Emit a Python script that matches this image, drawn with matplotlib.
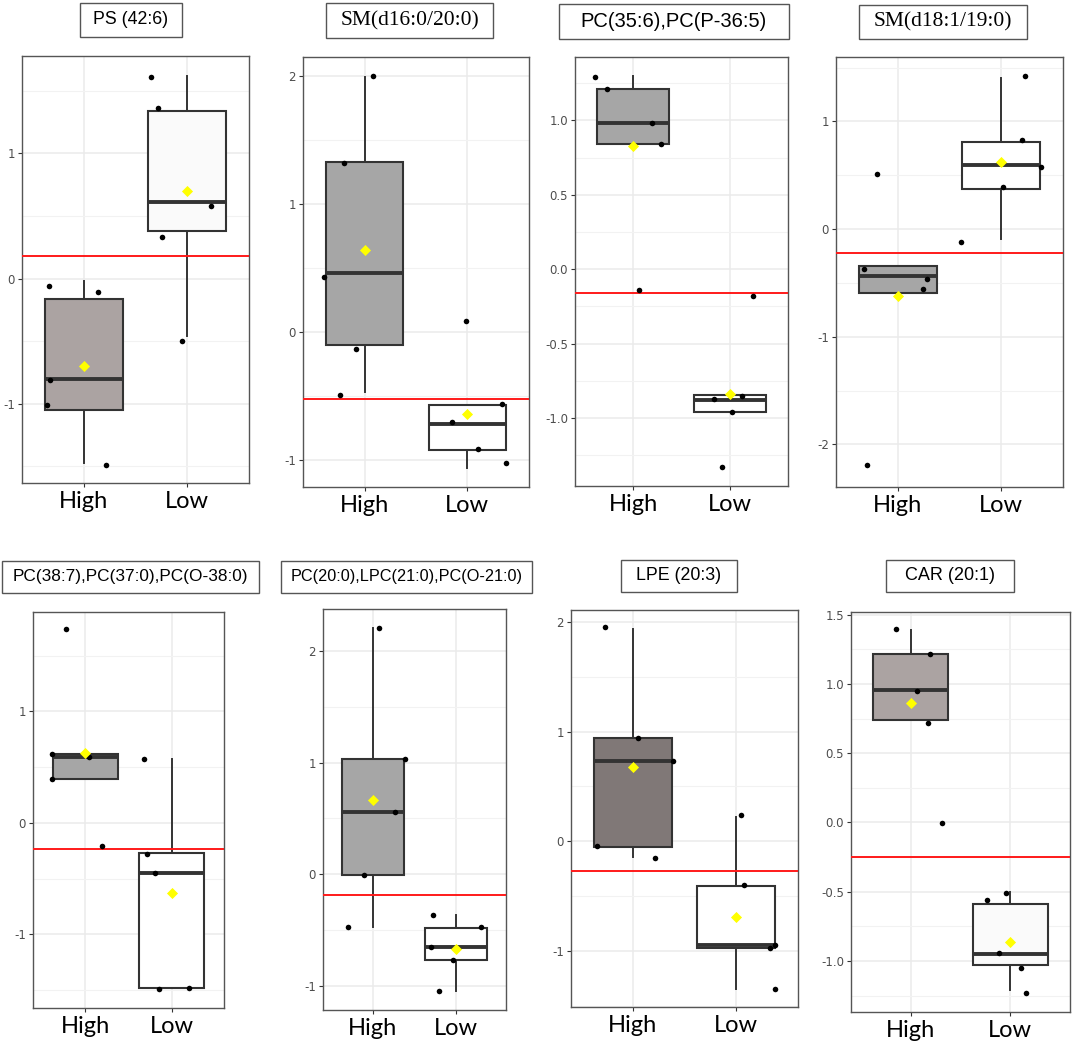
import matplotlib
matplotlib.use("Agg")
from matplotlib import pyplot as plt
from matplotlib.patches import Rectangle
from matplotlib.ticker import MultipleLocator, FormatStrFormatter

plt.rcParams['axes.unicode_minus'] = False

groups = ["High", "Low"]

titles = ["PS (42:6)", "SM(d16:0/20:0)", "PC(35:6),PC(P-36:5)", "SM(d18:1/19:0)",
          "PC(38:7),PC(37:0),PC(O-38:0)", "PC(20:0),LPC(21:0),PC(O-21:0)",
          "LPE (20:3)", "CAR (20:1)"]

# jittered sample points
high_vals = [[-0.06, -0.11, -0.81, -1.01, -1.49],
             [2.00, 1.32, 0.43, -0.13, -0.49],
             [1.29, 1.21, 0.98, 0.84, -0.14],
             [0.51, -0.37, -0.46, -0.56, -2.19],
             [1.74, 0.62, 0.59, 0.39, -0.21],
             [2.21, 1.03, 0.555, -0.006, -0.47],
             [1.95, 0.94, 0.73, -0.04, -0.15],
             [1.40, 1.22, 0.95, 0.72, -0.005]]
high_jit = [[-0.34, 0.14, -0.33, -0.36, 0.21],
            [0.08, -0.20, -0.40, -0.08, -0.24],
            [-0.39, -0.27, 0.20, 0.29, 0.06],
            [-0.20, -0.33, 0.28, 0.24, -0.30],
            [-0.22, -0.38, 0.04, -0.38, 0.20],
            [0.07, 0.39, 0.27, -0.11, -0.30],
            [-0.27, 0.05, 0.385, -0.35, 0.21],
            [-0.15, 0.19, 0.06, 0.17, 0.31]]
low_vals = [[1.61, 1.36, 0.58, 0.33, -0.50],
            [0.09, -0.70, -0.56, -0.91, -1.02],
            [-0.87, -0.85, -0.96, -1.33, -0.18],
            [1.42, 0.83, 0.58, 0.39, -0.12],
            [0.57, -0.28, -0.45, -1.49, -1.48],
            [-0.37, -0.47, -0.65, -0.77, -1.05],
            [0.24, -0.40, -0.94, -0.97, -1.34],
            [-0.56, -0.51, -0.945, -1.05, -1.23]]
low_jit = [[-0.35, -0.28, 0.23, -0.24, -0.05],
           [-0.01, -0.15, 0.34, 0.10, 0.38],
           [-0.16, 0.13, 0.02, -0.08, 0.24],
           [0.23, 0.20, 0.39, 0.02, -0.39],
           [-0.32, -0.29, -0.19, -0.15, 0.20],
           [-0.28, 0.30, -0.30, -0.04, -0.20],
           [0.05, 0.08, 0.38, 0.33, 0.375],
           [-0.23, -0.04, -0.11, 0.11, 0.16]]

# box stats: whisker low, q1, median, q3, whisker high
high_box = [[-1.47, -1.05, -0.80, -0.16, -0.02],
            [-0.47, -0.10, 0.46, 1.33, 1.99],
            [0.84, 0.84, 0.98, 1.21, 1.30],
            [-0.59, -0.59, -0.44, -0.34, -0.34],
            [0.39, 0.39, 0.59, 0.62, 0.62],
            [-0.47, -0.006, 0.555, 1.03, 2.205],
            [-0.14, -0.05, 0.73, 0.94, 1.93],
            [0.74, 0.74, 0.957, 1.22, 1.39]]
low_box = [[-0.46, 0.38, 0.61, 1.34, 1.62],
           [-1.06, -0.92, -0.72, -0.57, -0.57],
           [-0.96, -0.96, -0.88, -0.845, -0.845],
           [-0.09, 0.375, 0.595, 0.81, 1.40],
           [-1.48, -1.48, -0.45, -0.27, 0.57],
           [-1.05, -0.77, -0.655, -0.48, -0.37],
           [-1.34, -0.97, -0.94, -0.41, 0.22],
           [-1.21, -1.03, -0.947, -0.59, -0.50]]

high_mean = [-0.70, 0.64, 0.83, -0.62, 0.63, 0.665, 0.68, 0.86]
low_mean = [0.70, -0.64, -0.84, 0.62, -0.63, -0.667, -0.69, -0.86]
cutoffs = [0.18, -0.52, -0.157, -0.22, -0.233, -0.188, -0.273, -0.248]

# layout (pixels) -------------------------------------------------------
W, H = 1072, 1052
axes_px = [[22, 56, 249, 483], [303, 57, 529, 487], [575, 57, 788, 486], [836, 57, 1063, 487],
           [33, 612, 224, 1008], [323, 609, 506, 1010], [571, 610, 798, 1007], [851, 612, 1070, 1012]]
title_px = [[80, 3, 182, 37], [326, 3, 493, 38], [559, 4, 789, 39], [859, 5, 1027, 39],
            [2, 561, 259, 593], [281, 561, 532, 593], [621, 560, 737, 592], [886, 560, 1014, 592]]
title_fs = [12.8, 15.5, 14.5, 15.5, 12.4, 11.7, 12.8, 13]
title_font = ['Liberation Sans', 'Liberation Serif', 'Liberation Sans', 'Liberation Serif',
              'Liberation Sans', 'Liberation Sans', 'Liberation Sans', 'Liberation Sans']
ylims = [(-1.632, 1.776), (-1.21, 2.15), (-1.458, 1.427), (-2.396, 1.598),
         (-1.66, 1.89), (-1.218, 2.377), (-1.508, 2.107), (-1.369, 1.52)]
ystep = [1, 1, 0.5, 1, 1, 1, 1, 0.5]
high_fill = ['#aba3a2', '#a6a6a6', '#a6a6a6', '#a6a6a6', '#a6a6a6', '#a6a6a6', '#807877', '#aba3a2']
low_fill = ['#fafafa', 'white', 'white', 'white', 'white', 'white', 'white', '#fafafa']

fig = plt.figure(figsize=(W / 100, H / 100), dpi=100)
fig.patch.set_facecolor('white')

for i in range(8):
    l, t, r, b = axes_px[i]
    ax = fig.add_axes([l / W, 1 - b / H, (r - l) / W, (b - t) / H])

    stats = []
    for box in (high_box[i], low_box[i]):
        stats.append(dict(whislo=box[0], q1=box[1], med=box[2], q3=box[3], whishi=box[4], fliers=[]))
    bp = ax.bxp(stats, positions=[1, 2], widths=0.75, patch_artist=True, showcaps=False,
                showfliers=False,
                boxprops=dict(edgecolor='#333333', linewidth=1.5),
                medianprops=dict(color='#333333', linewidth=2.8),
                whiskerprops=dict(color='#333333', linewidth=1.4))
    bp['boxes'][0].set_facecolor(high_fill[i])
    bp['boxes'][1].set_facecolor(low_fill[i])

    ax.axhline(cutoffs[i], color='#ff1a1a', linewidth=1.4, zorder=3)

    xh = [1 + j for j in high_jit[i]]
    xl = [2 + j for j in low_jit[i]]
    ax.scatter(xh, high_vals[i], s=16, color='black', zorder=4, linewidths=0)
    ax.scatter(xl, low_vals[i], s=16, color='black', zorder=4, linewidths=0)
    ax.scatter([1, 2], [high_mean[i], low_mean[i]], marker='D', s=32, color='#ffff00',
               zorder=5, linewidths=0)

    ax.set_xlim(0.4, 2.6)
    ax.set_ylim(*ylims[i])
    ax.yaxis.set_major_locator(MultipleLocator(ystep[i]))
    ax.yaxis.set_minor_locator(MultipleLocator(ystep[i] / 2))
    if ystep[i] < 1:
        ax.yaxis.set_major_formatter(FormatStrFormatter('%.1f'))
    else:
        ax.yaxis.set_major_formatter(FormatStrFormatter('%d'))
    ax.set_xticks([1, 2])
    ax.set_xticklabels(groups, fontsize=17, family=['Lato', 'DejaVu Sans'], color='black')
    ax.tick_params(axis='y', labelsize=8.5, labelcolor='#4d4d4d', color='#333333', length=3, pad=2)
    ax.tick_params(axis='x', color='#333333', length=3, pad=3)
    ax.tick_params(axis='y', which='minor', length=0)
    ax.grid(True, which='major', color='#ebebeb', linewidth=1.1, zorder=0)
    ax.grid(True, which='minor', axis='y', color='#f2f2f2', linewidth=0.8, zorder=0)
    ax.set_axisbelow(True)
    for sp in ax.spines.values():
        sp.set_color('#555555')
        sp.set_linewidth(1.0)

    # title strip box
    tl, tt, tr, tb = title_px[i]
    fig.patches.append(Rectangle((tl / W, 1 - tb / H), (tr - tl) / W, (tb - tt) / H,
                                 transform=fig.transFigure, facecolor='white',
                                 edgecolor='#555555', linewidth=1.0))
    fig.text((tl + tr) / 2 / W, 1 - (tt + tb) / 2 / H, titles[i], ha='center', va='center',
             fontsize=title_fs[i], family=[title_font[i], 'DejaVu Sans'], color='black')

plt.savefig('out.png', dpi=100)
